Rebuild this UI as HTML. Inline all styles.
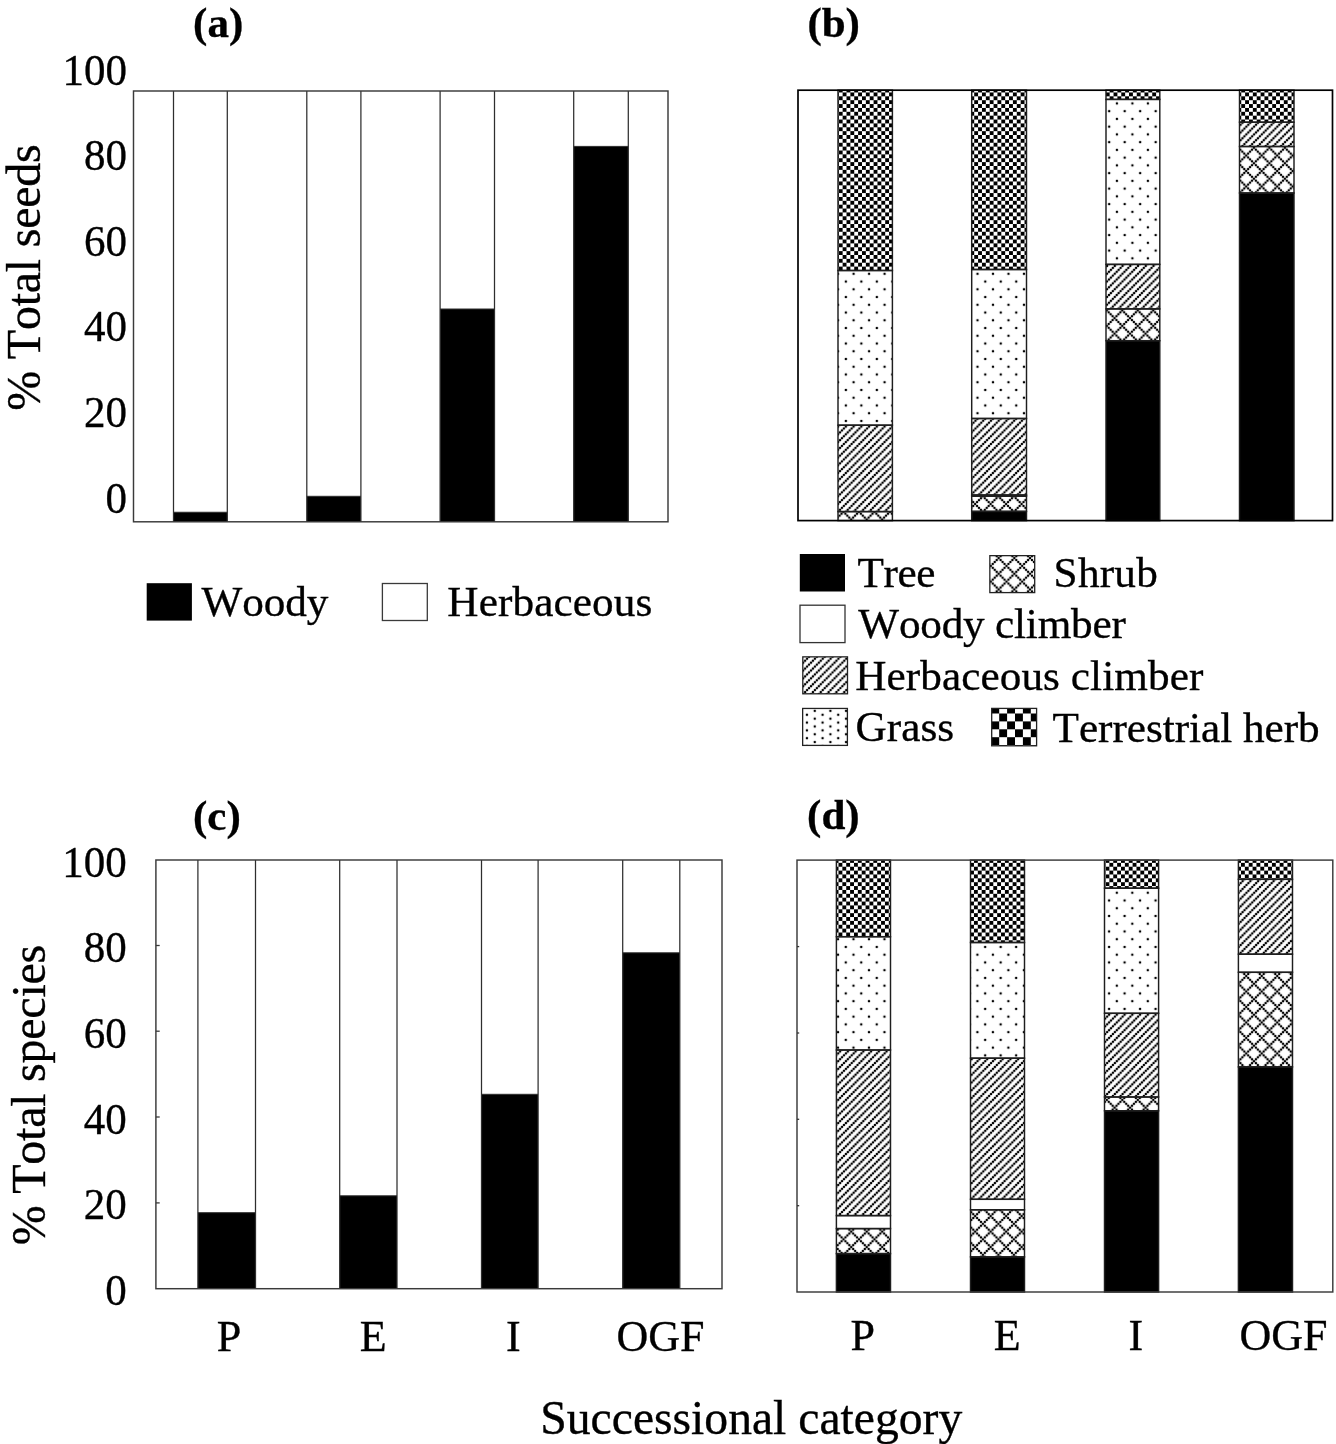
<!DOCTYPE html>
<html><head><meta charset="utf-8"><title>Figure</title><style>html,body{margin:0;padding:0;background:#fff;}svg{display:block;will-change:transform;}text{font-kerning:none;font-family:"Liberation Serif", serif;stroke:#000;stroke-width:0.35px;}</style></head><body>
<svg width="1336" height="1444" viewBox="0 0 1336 1444" font-family='"Liberation Serif", serif' fill="#000"><defs><pattern id="ckb" patternUnits="userSpaceOnUse" x="838.76" y="92.46" width="7.74" height="7.74"><rect width="7.74" height="7.74" fill="#fff"/><rect x="3.87" y="0" width="3.87" height="3.87"/><rect x="0" y="3.87" width="3.87" height="3.87"/></pattern><pattern id="dtb" patternUnits="userSpaceOnUse" x="849.73" y="269.93" width="15.49" height="15.49"><rect width="15.49" height="15.49" fill="#fff"/><circle cx="3.87" cy="3.87" r="1.25"/><circle cx="11.62" cy="11.62" r="1.25"/></pattern><pattern id="htb" patternUnits="userSpaceOnUse" x="1125.43" y="270.8" width="7.74" height="7.74"><rect width="7.74" height="7.74" fill="#fff"/><circle cx="0.97" cy="-0.97" r="1.25"/><circle cx="0.97" cy="6.78" r="1.25"/><circle cx="8.71" cy="-0.97" r="1.25"/><circle cx="8.71" cy="6.78" r="1.25"/><circle cx="2.9" cy="4.84" r="1.25"/><circle cx="4.84" cy="2.9" r="1.25"/><circle cx="-0.97" cy="0.97" r="1.25"/><circle cx="-0.97" cy="8.71" r="1.25"/><circle cx="6.78" cy="0.97" r="1.25"/><circle cx="6.78" cy="8.71" r="1.25"/></pattern><pattern id="crb" patternUnits="userSpaceOnUse" x="1245.23" y="154.53" width="15.49" height="15.49"><rect width="15.49" height="15.49" fill="#fff"/><circle cx="0.97" cy="0.97" r="1.25"/><circle cx="0.97" cy="16.46" r="1.25"/><circle cx="16.46" cy="0.97" r="1.25"/><circle cx="16.46" cy="16.46" r="1.25"/><circle cx="2.9" cy="2.9" r="1.25"/><circle cx="2.9" cy="-0.97" r="1.25"/><circle cx="2.9" cy="14.52" r="1.25"/><circle cx="4.84" cy="4.84" r="1.25"/><circle cx="4.84" cy="12.58" r="1.25"/><circle cx="6.78" cy="6.78" r="1.25"/><circle cx="6.78" cy="10.65" r="1.25"/><circle cx="8.71" cy="8.71" r="1.25"/><circle cx="10.65" cy="6.78" r="1.25"/><circle cx="10.65" cy="10.65" r="1.25"/><circle cx="12.58" cy="4.84" r="1.25"/><circle cx="12.58" cy="12.58" r="1.25"/><circle cx="-0.97" cy="2.9" r="1.25"/><circle cx="14.52" cy="2.9" r="1.25"/><circle cx="-0.97" cy="-0.97" r="1.25"/><circle cx="-0.97" cy="14.52" r="1.25"/><circle cx="14.52" cy="-0.97" r="1.25"/><circle cx="14.52" cy="14.52" r="1.25"/></pattern><pattern id="ckd" patternUnits="userSpaceOnUse" x="842.36" y="862.86" width="7.74" height="7.74"><rect width="7.74" height="7.74" fill="#fff"/><rect x="3.87" y="0" width="3.87" height="3.87"/><rect x="0" y="3.87" width="3.87" height="3.87"/></pattern><pattern id="dtd" patternUnits="userSpaceOnUse" x="849.63" y="935.33" width="15.49" height="15.49"><rect width="15.49" height="15.49" fill="#fff"/><circle cx="3.87" cy="3.87" r="1.25"/><circle cx="11.62" cy="11.62" r="1.25"/></pattern><pattern id="htd" patternUnits="userSpaceOnUse" x="1257.11" y="905.35" width="7.74" height="7.74"><rect width="7.74" height="7.74" fill="#fff"/><circle cx="0.97" cy="-0.97" r="1.25"/><circle cx="0.97" cy="6.78" r="1.25"/><circle cx="8.71" cy="-0.97" r="1.25"/><circle cx="8.71" cy="6.78" r="1.25"/><circle cx="2.9" cy="4.84" r="1.25"/><circle cx="4.84" cy="2.9" r="1.25"/><circle cx="-0.97" cy="0.97" r="1.25"/><circle cx="-0.97" cy="8.71" r="1.25"/><circle cx="6.78" cy="0.97" r="1.25"/><circle cx="6.78" cy="8.71" r="1.25"/></pattern><pattern id="crd" patternUnits="userSpaceOnUse" x="1253.03" y="1044.73" width="15.49" height="15.49"><rect width="15.49" height="15.49" fill="#fff"/><circle cx="0.97" cy="0.97" r="1.25"/><circle cx="0.97" cy="16.46" r="1.25"/><circle cx="16.46" cy="0.97" r="1.25"/><circle cx="16.46" cy="16.46" r="1.25"/><circle cx="2.9" cy="2.9" r="1.25"/><circle cx="2.9" cy="-0.97" r="1.25"/><circle cx="2.9" cy="14.52" r="1.25"/><circle cx="4.84" cy="4.84" r="1.25"/><circle cx="4.84" cy="12.58" r="1.25"/><circle cx="6.78" cy="6.78" r="1.25"/><circle cx="6.78" cy="10.65" r="1.25"/><circle cx="8.71" cy="8.71" r="1.25"/><circle cx="10.65" cy="6.78" r="1.25"/><circle cx="10.65" cy="10.65" r="1.25"/><circle cx="12.58" cy="4.84" r="1.25"/><circle cx="12.58" cy="12.58" r="1.25"/><circle cx="-0.97" cy="2.9" r="1.25"/><circle cx="14.52" cy="2.9" r="1.25"/><circle cx="-0.97" cy="-0.97" r="1.25"/><circle cx="-0.97" cy="14.52" r="1.25"/><circle cx="14.52" cy="-0.97" r="1.25"/><circle cx="14.52" cy="14.52" r="1.25"/></pattern><pattern id="crl" patternUnits="userSpaceOnUse" x="997.68" y="557.09" width="15.68" height="15.68"><rect width="15.68" height="15.68" fill="#fff"/><circle cx="0.98" cy="0.98" r="1.25"/><circle cx="0.98" cy="16.66" r="1.25"/><circle cx="16.66" cy="0.98" r="1.25"/><circle cx="16.66" cy="16.66" r="1.25"/><circle cx="2.94" cy="2.94" r="1.25"/><circle cx="2.94" cy="-0.98" r="1.25"/><circle cx="2.94" cy="14.7" r="1.25"/><circle cx="4.9" cy="4.9" r="1.25"/><circle cx="4.9" cy="12.74" r="1.25"/><circle cx="6.86" cy="6.86" r="1.25"/><circle cx="6.86" cy="10.78" r="1.25"/><circle cx="8.82" cy="8.82" r="1.25"/><circle cx="10.78" cy="6.86" r="1.25"/><circle cx="10.78" cy="10.78" r="1.25"/><circle cx="12.74" cy="4.9" r="1.25"/><circle cx="12.74" cy="12.74" r="1.25"/><circle cx="-0.98" cy="2.94" r="1.25"/><circle cx="14.7" cy="2.94" r="1.25"/><circle cx="-0.98" cy="-0.98" r="1.25"/><circle cx="-0.98" cy="14.7" r="1.25"/><circle cx="14.7" cy="-0.98" r="1.25"/><circle cx="14.7" cy="14.7" r="1.25"/></pattern><pattern id="htl" patternUnits="userSpaceOnUse" x="811.98" y="653.83" width="7.84" height="7.84"><rect width="7.84" height="7.84" fill="#fff"/><circle cx="0.98" cy="-0.98" r="1.25"/><circle cx="0.98" cy="6.86" r="1.25"/><circle cx="8.82" cy="-0.98" r="1.25"/><circle cx="8.82" cy="6.86" r="1.25"/><circle cx="2.94" cy="4.9" r="1.25"/><circle cx="4.9" cy="2.94" r="1.25"/><circle cx="-0.98" cy="0.98" r="1.25"/><circle cx="-0.98" cy="8.82" r="1.25"/><circle cx="6.86" cy="0.98" r="1.25"/><circle cx="6.86" cy="8.82" r="1.25"/></pattern><pattern id="dtl" patternUnits="userSpaceOnUse" x="810.86" y="708.92" width="15.65" height="7.8"><rect width="15.65" height="7.8" fill="#fff"/><circle cx="3.91" cy="1.95" r="1.25"/><circle cx="11.73" cy="5.85" r="1.25"/></pattern><pattern id="ckl" patternUnits="userSpaceOnUse" x="991.3" y="705.6" width="15.8" height="15.8"><rect width="15.8" height="15.8" fill="#fff"/><rect x="0" y="0" width="7.9" height="7.9"/><rect x="7.9" y="7.9" width="7.9" height="7.9"/></pattern></defs><rect width="1336" height="1444" fill="#fff"/><rect x="173.5" y="91" width="53.8" height="430.8" fill="#fff" stroke="none" stroke-width="1"/><rect x="173.5" y="512.25" width="53.8" height="9.55" fill="#000" stroke="none" stroke-width="1"/><line x1="173.5" y1="91" x2="173.5" y2="521.8" stroke="#2e2e2e" stroke-width="1.25"/><line x1="227.3" y1="91" x2="227.3" y2="521.8" stroke="#2e2e2e" stroke-width="1.25"/><line x1="173.5" y1="512.25" x2="227.3" y2="512.25" stroke="#2e2e2e" stroke-width="1"/><rect x="306.8" y="91" width="54.1" height="430.8" fill="#fff" stroke="none" stroke-width="1"/><rect x="306.8" y="496.3" width="54.1" height="25.5" fill="#000" stroke="none" stroke-width="1"/><line x1="306.8" y1="91" x2="306.8" y2="521.8" stroke="#2e2e2e" stroke-width="1.25"/><line x1="360.9" y1="91" x2="360.9" y2="521.8" stroke="#2e2e2e" stroke-width="1.25"/><line x1="306.8" y1="496.3" x2="360.9" y2="496.3" stroke="#2e2e2e" stroke-width="1"/><rect x="440.1" y="91" width="54.4" height="430.8" fill="#fff" stroke="none" stroke-width="1"/><rect x="440.1" y="309" width="54.4" height="212.8" fill="#000" stroke="none" stroke-width="1"/><line x1="440.1" y1="91" x2="440.1" y2="521.8" stroke="#2e2e2e" stroke-width="1.25"/><line x1="494.5" y1="91" x2="494.5" y2="521.8" stroke="#2e2e2e" stroke-width="1.25"/><line x1="440.1" y1="309" x2="494.5" y2="309" stroke="#2e2e2e" stroke-width="1"/><rect x="573.7" y="91" width="54.6" height="430.8" fill="#fff" stroke="none" stroke-width="1"/><rect x="573.7" y="146.4" width="54.6" height="375.4" fill="#000" stroke="none" stroke-width="1"/><line x1="573.7" y1="91" x2="573.7" y2="521.8" stroke="#2e2e2e" stroke-width="1.25"/><line x1="628.3" y1="91" x2="628.3" y2="521.8" stroke="#2e2e2e" stroke-width="1.25"/><line x1="573.7" y1="146.4" x2="628.3" y2="146.4" stroke="#2e2e2e" stroke-width="1"/><rect x="133.5" y="91" width="534.5" height="430.8" fill="none" stroke="#3a3a3a" stroke-width="1.45"/><text transform="translate(126.9 84.5) scale(1 1.04)" font-size="43" text-anchor="end">100</text><text transform="translate(126.9 170.12) scale(1 1.04)" font-size="43" text-anchor="end">80</text><text transform="translate(126.9 255.74) scale(1 1.04)" font-size="43" text-anchor="end">60</text><text transform="translate(126.9 341.36) scale(1 1.04)" font-size="43" text-anchor="end">40</text><text transform="translate(126.9 426.98) scale(1 1.04)" font-size="43" text-anchor="end">20</text><text transform="translate(126.9 512.6) scale(1 1.04)" font-size="43" text-anchor="end">0</text><text transform="translate(39.8 410.64) rotate(-90)" font-size="48" textLength="266.38" lengthAdjust="spacing">% Total seeds</text><text x="193.1" y="37.3" font-size="43" text-anchor="start" font-weight="bold">(a)</text><rect x="146.7" y="583.2" width="45.2" height="37.4" fill="#000" stroke="none" stroke-width="1"/><text x="201.56" y="616.4" font-size="43.2" textLength="126.71" lengthAdjust="spacing">Woody</text><rect x="382.4" y="583.5" width="44.9" height="37" fill="#fff" stroke="#3a3a3a" stroke-width="1.3"/><text x="447.36" y="616" font-size="43.2" textLength="204.91" lengthAdjust="spacing">Herbaceous</text><rect x="838" y="90.2" width="54.4" height="180.3" fill="url(#ckb)" stroke="none" stroke-width="1"/><rect x="838" y="270.5" width="54.4" height="154.7" fill="url(#dtb)" stroke="none" stroke-width="1"/><rect x="838" y="425.2" width="54.4" height="86.4" fill="url(#htb)" stroke="none" stroke-width="1"/><rect x="838" y="511.6" width="54.4" height="9" fill="url(#crb)" stroke="none" stroke-width="1"/><rect x="838" y="90.2" width="54.4" height="180.3" fill="none" stroke="#1e1e1e" stroke-width="1.45"/><rect x="838" y="270.5" width="54.4" height="154.7" fill="none" stroke="#1e1e1e" stroke-width="1.45"/><rect x="838" y="425.2" width="54.4" height="86.4" fill="none" stroke="#1e1e1e" stroke-width="1.45"/><rect x="838" y="511.6" width="54.4" height="9" fill="none" stroke="#1e1e1e" stroke-width="1.45"/><rect x="971.7" y="90.2" width="54.8" height="179.3" fill="url(#ckb)" stroke="none" stroke-width="1"/><rect x="971.7" y="269.5" width="54.8" height="149" fill="url(#dtb)" stroke="none" stroke-width="1"/><rect x="971.7" y="418.5" width="54.8" height="76.5" fill="url(#htb)" stroke="none" stroke-width="1"/><rect x="971.7" y="495" width="54.8" height="1.2" fill="#fff" stroke="none" stroke-width="1"/><rect x="971.7" y="496.2" width="54.8" height="15.2" fill="url(#crb)" stroke="none" stroke-width="1"/><rect x="971.7" y="511.4" width="54.8" height="9.2" fill="#000" stroke="none" stroke-width="1"/><rect x="971.7" y="90.2" width="54.8" height="179.3" fill="none" stroke="#1e1e1e" stroke-width="1.45"/><rect x="971.7" y="269.5" width="54.8" height="149" fill="none" stroke="#1e1e1e" stroke-width="1.45"/><rect x="971.7" y="418.5" width="54.8" height="76.5" fill="none" stroke="#1e1e1e" stroke-width="1.45"/><rect x="971.7" y="495" width="54.8" height="1.2" fill="none" stroke="#1e1e1e" stroke-width="1.45"/><rect x="971.7" y="496.2" width="54.8" height="15.2" fill="none" stroke="#1e1e1e" stroke-width="1.45"/><rect x="971.7" y="511.4" width="54.8" height="9.2" fill="none" stroke="#1e1e1e" stroke-width="1.45"/><rect x="1106" y="90.2" width="53.8" height="9.2" fill="url(#ckb)" stroke="none" stroke-width="1"/><rect x="1106" y="99.4" width="53.8" height="165" fill="url(#dtb)" stroke="none" stroke-width="1"/><rect x="1106" y="264.4" width="53.8" height="44.5" fill="url(#htb)" stroke="none" stroke-width="1"/><rect x="1106" y="308.9" width="53.8" height="31.8" fill="url(#crb)" stroke="none" stroke-width="1"/><rect x="1106" y="340.7" width="53.8" height="179.9" fill="#000" stroke="none" stroke-width="1"/><rect x="1106" y="90.2" width="53.8" height="9.2" fill="none" stroke="#1e1e1e" stroke-width="1.45"/><rect x="1106" y="99.4" width="53.8" height="165" fill="none" stroke="#1e1e1e" stroke-width="1.45"/><rect x="1106" y="264.4" width="53.8" height="44.5" fill="none" stroke="#1e1e1e" stroke-width="1.45"/><rect x="1106" y="308.9" width="53.8" height="31.8" fill="none" stroke="#1e1e1e" stroke-width="1.45"/><rect x="1106" y="340.7" width="53.8" height="179.9" fill="none" stroke="#1e1e1e" stroke-width="1.45"/><rect x="1239.5" y="90.2" width="54.5" height="32" fill="url(#ckb)" stroke="none" stroke-width="1"/><rect x="1239.5" y="122.2" width="54.5" height="24.3" fill="url(#htb)" stroke="none" stroke-width="1"/><rect x="1239.5" y="146.5" width="54.5" height="46.5" fill="url(#crb)" stroke="none" stroke-width="1"/><rect x="1239.5" y="193" width="54.5" height="327.6" fill="#000" stroke="none" stroke-width="1"/><rect x="1239.5" y="90.2" width="54.5" height="32" fill="none" stroke="#1e1e1e" stroke-width="1.45"/><rect x="1239.5" y="122.2" width="54.5" height="24.3" fill="none" stroke="#1e1e1e" stroke-width="1.45"/><rect x="1239.5" y="146.5" width="54.5" height="46.5" fill="none" stroke="#1e1e1e" stroke-width="1.45"/><rect x="1239.5" y="193" width="54.5" height="327.6" fill="none" stroke="#1e1e1e" stroke-width="1.45"/><rect x="798" y="90.2" width="534.5" height="430.4" fill="none" stroke="#000" stroke-width="1.7"/><text x="807.4" y="37.2" font-size="43" text-anchor="start" font-weight="bold">(b)</text><rect x="799.8" y="554" width="45.2" height="37.5" fill="#000" stroke="none" stroke-width="1"/><text x="857.62" y="586.9" font-size="43.2" textLength="77.68" lengthAdjust="spacing">Tree</text><rect x="989.85" y="555.65" width="44.85" height="36.95" fill="url(#crl)" stroke="#222" stroke-width="1.3"/><text x="1053.61" y="586.9" font-size="43.2" textLength="104.14" lengthAdjust="spacing">Shrub</text><rect x="800" y="605.2" width="45" height="37.4" fill="#fff" stroke="#333" stroke-width="1.3"/><text x="858.36" y="638.4" font-size="43.2" textLength="267.42" lengthAdjust="spacing">Woody climber</text><rect x="802.8" y="656.85" width="44.7" height="36.95" fill="url(#htl)" stroke="#222" stroke-width="1.3"/><text x="855.26" y="689.5" font-size="43.2" textLength="348.02" lengthAdjust="spacing">Herbaceous climber</text><rect x="802.65" y="708.45" width="44.75" height="36.95" fill="url(#dtl)" stroke="#222" stroke-width="1.3"/><text x="855.53" y="741.3" font-size="43.2" textLength="98.63" lengthAdjust="spacing">Grass</text><rect x="991.7" y="708.4" width="44.9" height="37.4" fill="url(#ckl)" stroke="#222" stroke-width="1.3"/><text x="1052.52" y="742" font-size="43.2" textLength="267.13" lengthAdjust="spacing">Terrestrial herb</text><rect x="197.9" y="860" width="57.6" height="428.7" fill="#fff" stroke="none" stroke-width="1"/><rect x="197.9" y="1212.7" width="57.6" height="76" fill="#000" stroke="none" stroke-width="1"/><line x1="197.9" y1="860" x2="197.9" y2="1288.7" stroke="#2e2e2e" stroke-width="1.25"/><line x1="255.5" y1="860" x2="255.5" y2="1288.7" stroke="#2e2e2e" stroke-width="1.25"/><line x1="197.9" y1="1212.7" x2="255.5" y2="1212.7" stroke="#2e2e2e" stroke-width="1"/><rect x="339.7" y="860" width="57.3" height="428.7" fill="#fff" stroke="none" stroke-width="1"/><rect x="339.7" y="1195.8" width="57.3" height="92.9" fill="#000" stroke="none" stroke-width="1"/><line x1="339.7" y1="860" x2="339.7" y2="1288.7" stroke="#2e2e2e" stroke-width="1.25"/><line x1="397" y1="860" x2="397" y2="1288.7" stroke="#2e2e2e" stroke-width="1.25"/><line x1="339.7" y1="1195.8" x2="397" y2="1195.8" stroke="#2e2e2e" stroke-width="1"/><rect x="481.5" y="860" width="56.6" height="428.7" fill="#fff" stroke="none" stroke-width="1"/><rect x="481.5" y="1094.3" width="56.6" height="194.4" fill="#000" stroke="none" stroke-width="1"/><line x1="481.5" y1="860" x2="481.5" y2="1288.7" stroke="#2e2e2e" stroke-width="1.25"/><line x1="538.1" y1="860" x2="538.1" y2="1288.7" stroke="#2e2e2e" stroke-width="1.25"/><line x1="481.5" y1="1094.3" x2="538.1" y2="1094.3" stroke="#2e2e2e" stroke-width="1"/><rect x="622.7" y="860" width="57.1" height="428.7" fill="#fff" stroke="none" stroke-width="1"/><rect x="622.7" y="952.8" width="57.1" height="335.9" fill="#000" stroke="none" stroke-width="1"/><line x1="622.7" y1="860" x2="622.7" y2="1288.7" stroke="#2e2e2e" stroke-width="1.25"/><line x1="679.8" y1="860" x2="679.8" y2="1288.7" stroke="#2e2e2e" stroke-width="1.25"/><line x1="622.7" y1="952.8" x2="679.8" y2="952.8" stroke="#2e2e2e" stroke-width="1"/><rect x="155.9" y="860" width="566.1" height="428.7" fill="none" stroke="#3a3a3a" stroke-width="1.45"/><line x1="155.9" y1="945.5" x2="159.7" y2="945.5" stroke="#3a3a3a" stroke-width="1.3"/><line x1="155.9" y1="1031.2" x2="159.7" y2="1031.2" stroke="#3a3a3a" stroke-width="1.3"/><line x1="155.9" y1="1117" x2="159.7" y2="1117" stroke="#3a3a3a" stroke-width="1.3"/><line x1="155.9" y1="1202.9" x2="159.7" y2="1202.9" stroke="#3a3a3a" stroke-width="1.3"/><text transform="translate(126.8 876.6) scale(1 1.04)" font-size="43" text-anchor="end">100</text><text transform="translate(126.8 962.32) scale(1 1.04)" font-size="43" text-anchor="end">80</text><text transform="translate(126.8 1048.04) scale(1 1.04)" font-size="43" text-anchor="end">60</text><text transform="translate(126.8 1133.76) scale(1 1.04)" font-size="43" text-anchor="end">40</text><text transform="translate(126.8 1219.48) scale(1 1.04)" font-size="43" text-anchor="end">20</text><text transform="translate(126.8 1305.2) scale(1 1.04)" font-size="43" text-anchor="end">0</text><text transform="translate(44.8 1245.24) rotate(-90)" font-size="48" textLength="300.47" lengthAdjust="spacing">% Total species</text><text x="193" y="830.3" font-size="43" text-anchor="start" font-weight="bold">(c)</text><text x="228.9" y="1350.5" font-size="44" text-anchor="middle">P</text><text x="373.25" y="1350.5" font-size="44" text-anchor="middle">E</text><text x="513.4" y="1350.5" font-size="44" text-anchor="middle">I</text><text x="660.5" y="1350.5" font-size="44" text-anchor="middle">OGF</text><rect x="836.4" y="860.1" width="54.1" height="76.6" fill="url(#ckd)" stroke="none" stroke-width="1"/><rect x="836.4" y="936.7" width="54.1" height="113.3" fill="url(#dtd)" stroke="none" stroke-width="1"/><rect x="836.4" y="1050" width="54.1" height="165.6" fill="url(#htd)" stroke="none" stroke-width="1"/><rect x="836.4" y="1215.6" width="54.1" height="13" fill="#fff" stroke="none" stroke-width="1"/><rect x="836.4" y="1228.6" width="54.1" height="25" fill="url(#crd)" stroke="none" stroke-width="1"/><rect x="836.4" y="1253.6" width="54.1" height="38.4" fill="#000" stroke="none" stroke-width="1"/><rect x="836.4" y="860.1" width="54.1" height="76.6" fill="none" stroke="#1e1e1e" stroke-width="1.45"/><rect x="836.4" y="936.7" width="54.1" height="113.3" fill="none" stroke="#1e1e1e" stroke-width="1.45"/><rect x="836.4" y="1050" width="54.1" height="165.6" fill="none" stroke="#1e1e1e" stroke-width="1.45"/><rect x="836.4" y="1215.6" width="54.1" height="13" fill="none" stroke="#1e1e1e" stroke-width="1.45"/><rect x="836.4" y="1228.6" width="54.1" height="25" fill="none" stroke="#1e1e1e" stroke-width="1.45"/><rect x="836.4" y="1253.6" width="54.1" height="38.4" fill="none" stroke="#1e1e1e" stroke-width="1.45"/><rect x="970.5" y="860.1" width="54" height="82.4" fill="url(#ckd)" stroke="none" stroke-width="1"/><rect x="970.5" y="942.5" width="54" height="115.7" fill="url(#dtd)" stroke="none" stroke-width="1"/><rect x="970.5" y="1058.2" width="54" height="141.1" fill="url(#htd)" stroke="none" stroke-width="1"/><rect x="970.5" y="1199.3" width="54" height="10.5" fill="#fff" stroke="none" stroke-width="1"/><rect x="970.5" y="1209.8" width="54" height="47.1" fill="url(#crd)" stroke="none" stroke-width="1"/><rect x="970.5" y="1256.9" width="54" height="35.1" fill="#000" stroke="none" stroke-width="1"/><rect x="970.5" y="860.1" width="54" height="82.4" fill="none" stroke="#1e1e1e" stroke-width="1.45"/><rect x="970.5" y="942.5" width="54" height="115.7" fill="none" stroke="#1e1e1e" stroke-width="1.45"/><rect x="970.5" y="1058.2" width="54" height="141.1" fill="none" stroke="#1e1e1e" stroke-width="1.45"/><rect x="970.5" y="1199.3" width="54" height="10.5" fill="none" stroke="#1e1e1e" stroke-width="1.45"/><rect x="970.5" y="1209.8" width="54" height="47.1" fill="none" stroke="#1e1e1e" stroke-width="1.45"/><rect x="970.5" y="1256.9" width="54" height="35.1" fill="none" stroke="#1e1e1e" stroke-width="1.45"/><rect x="1104.5" y="860.1" width="54.1" height="28.1" fill="url(#ckd)" stroke="none" stroke-width="1"/><rect x="1104.5" y="888.2" width="54.1" height="125.1" fill="url(#dtd)" stroke="none" stroke-width="1"/><rect x="1104.5" y="1013.3" width="54.1" height="83.7" fill="url(#htd)" stroke="none" stroke-width="1"/><rect x="1104.5" y="1097" width="54.1" height="13.8" fill="url(#crd)" stroke="none" stroke-width="1"/><rect x="1104.5" y="1110.8" width="54.1" height="181.2" fill="#000" stroke="none" stroke-width="1"/><rect x="1104.5" y="860.1" width="54.1" height="28.1" fill="none" stroke="#1e1e1e" stroke-width="1.45"/><rect x="1104.5" y="888.2" width="54.1" height="125.1" fill="none" stroke="#1e1e1e" stroke-width="1.45"/><rect x="1104.5" y="1013.3" width="54.1" height="83.7" fill="none" stroke="#1e1e1e" stroke-width="1.45"/><rect x="1104.5" y="1097" width="54.1" height="13.8" fill="none" stroke="#1e1e1e" stroke-width="1.45"/><rect x="1104.5" y="1110.8" width="54.1" height="181.2" fill="none" stroke="#1e1e1e" stroke-width="1.45"/><rect x="1238.4" y="860.1" width="54.1" height="19.2" fill="url(#ckd)" stroke="none" stroke-width="1"/><rect x="1238.4" y="879.3" width="54.1" height="74.9" fill="url(#htd)" stroke="none" stroke-width="1"/><rect x="1238.4" y="954.2" width="54.1" height="18.1" fill="#fff" stroke="none" stroke-width="1"/><rect x="1238.4" y="972.3" width="54.1" height="94.6" fill="url(#crd)" stroke="none" stroke-width="1"/><rect x="1238.4" y="1066.9" width="54.1" height="225.1" fill="#000" stroke="none" stroke-width="1"/><rect x="1238.4" y="860.1" width="54.1" height="19.2" fill="none" stroke="#1e1e1e" stroke-width="1.45"/><rect x="1238.4" y="879.3" width="54.1" height="74.9" fill="none" stroke="#1e1e1e" stroke-width="1.45"/><rect x="1238.4" y="954.2" width="54.1" height="18.1" fill="none" stroke="#1e1e1e" stroke-width="1.45"/><rect x="1238.4" y="972.3" width="54.1" height="94.6" fill="none" stroke="#1e1e1e" stroke-width="1.45"/><rect x="1238.4" y="1066.9" width="54.1" height="225.1" fill="none" stroke="#1e1e1e" stroke-width="1.45"/><rect x="797" y="860.1" width="535.8" height="431.9" fill="none" stroke="#3a3a3a" stroke-width="1.45"/><line x1="797" y1="946.6" x2="799.2" y2="946.6" stroke="#333" stroke-width="1.3"/><line x1="797" y1="1033" x2="799.2" y2="1033" stroke="#333" stroke-width="1.3"/><line x1="797" y1="1119.3" x2="799.2" y2="1119.3" stroke="#333" stroke-width="1.3"/><line x1="797" y1="1205.7" x2="799.2" y2="1205.7" stroke="#333" stroke-width="1.3"/><text x="807.1" y="829.4" font-size="43" text-anchor="start" font-weight="bold">(d)</text><text x="862.7" y="1350.4" font-size="44" text-anchor="middle">P</text><text x="1007.2" y="1350.4" font-size="44" text-anchor="middle">E</text><text x="1135.8" y="1350.4" font-size="44" text-anchor="middle">I</text><text x="1283.5" y="1350.4" font-size="44" text-anchor="middle">OGF</text><text x="540.32" y="1433.6" font-size="47.6" textLength="421.87" lengthAdjust="spacing">Successional category</text></svg>
</body></html>
